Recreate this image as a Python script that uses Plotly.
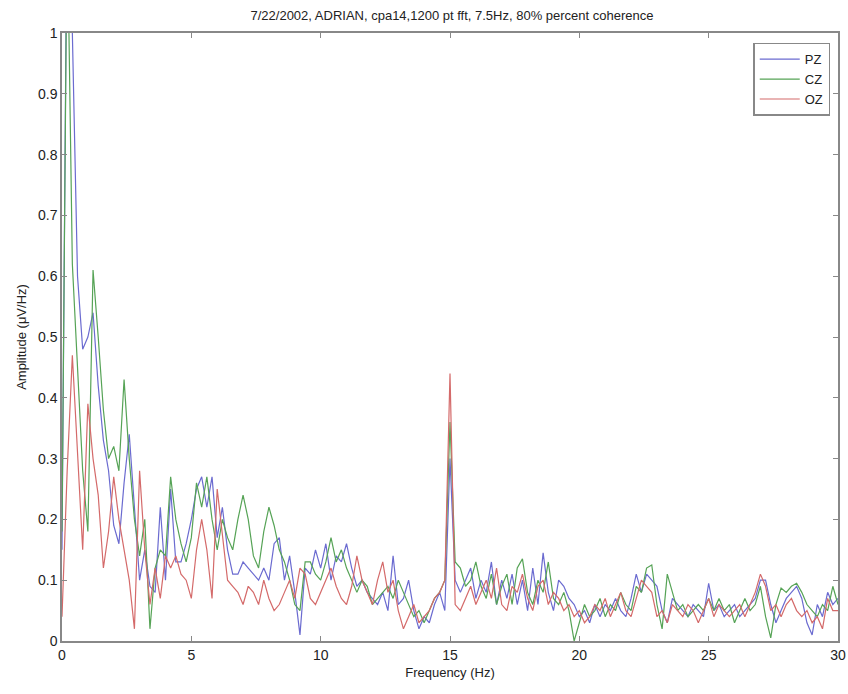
import numpy as np
import plotly.graph_objects as go

step = 0.2
freq = [round(i * step, 1) for i in range(151)]

pz = [
    0.15, 1.25, 1.00, 0.60, 0.48, 0.50, 0.54, 0.42, 0.33, 0.28,
    0.19, 0.16, 0.26, 0.34, 0.22, 0.10, 0.15, 0.09, 0.08, 0.22,
    0.10, 0.25, 0.13, 0.13, 0.16, 0.20, 0.25, 0.27, 0.22, 0.27,
    0.17, 0.22, 0.15, 0.11, 0.11, 0.13, 0.12, 0.11, 0.10, 0.12,
    0.10, 0.16, 0.17, 0.10, 0.14, 0.08, 0.01, 0.12, 0.11, 0.15,
    0.12, 0.16, 0.10, 0.14, 0.13, 0.16, 0.12, 0.09, 0.10, 0.08,
    0.07, 0.06, 0.08, 0.05, 0.14, 0.06, 0.07, 0.10, 0.05, 0.02,
    0.04, 0.03, 0.06, 0.08, 0.05, 0.30, 0.10, 0.08, 0.10, 0.12,
    0.07, 0.10, 0.08, 0.13, 0.06, 0.10, 0.07, 0.11, 0.06, 0.10,
    0.05, 0.12, 0.06, 0.145, 0.08, 0.05, 0.10, 0.09, 0.07, 0.06,
    0.04, 0.05, 0.03, 0.06, 0.04, 0.06, 0.05, 0.07, 0.05, 0.04,
    0.07, 0.11, 0.08, 0.11, 0.10, 0.09, 0.05, 0.03, 0.07, 0.06,
    0.05, 0.04, 0.06, 0.05, 0.04, 0.095, 0.05, 0.06, 0.04, 0.05,
    0.06, 0.04, 0.05, 0.06, 0.07, 0.10, 0.10, 0.06, 0.03, 0.05,
    0.07, 0.08, 0.09, 0.07, 0.03, 0.01, 0.06, 0.04, 0.08, 0.06,
    0.07,
]

cz = [
    0.18, 1.20, 0.62, 0.45, 0.28, 0.18, 0.61, 0.50, 0.38, 0.30,
    0.32, 0.28, 0.43, 0.30, 0.20, 0.14, 0.20, 0.02, 0.12, 0.15,
    0.14, 0.27, 0.20, 0.16, 0.13, 0.17, 0.26, 0.22, 0.27, 0.20,
    0.15, 0.20, 0.17, 0.15, 0.20, 0.24, 0.20, 0.14, 0.12, 0.18,
    0.22, 0.19, 0.15, 0.13, 0.10, 0.06, 0.05, 0.13, 0.13, 0.11,
    0.10, 0.13, 0.17, 0.13, 0.15, 0.12, 0.10, 0.08, 0.10, 0.09,
    0.06, 0.07, 0.08, 0.09, 0.07, 0.10, 0.08, 0.06, 0.04, 0.05,
    0.03, 0.05, 0.07, 0.08, 0.10, 0.36, 0.13, 0.12, 0.09, 0.10,
    0.13, 0.09, 0.07, 0.11, 0.06, 0.09, 0.11, 0.06, 0.12, 0.135,
    0.08, 0.06, 0.10, 0.08, 0.13, 0.07, 0.06, 0.08, 0.05, 0.00,
    0.03, 0.06, 0.04, 0.05, 0.07, 0.04, 0.06, 0.05, 0.08, 0.06,
    0.05, 0.09, 0.08, 0.12, 0.125, 0.06, 0.02, 0.11, 0.08, 0.05,
    0.06, 0.04, 0.05, 0.06, 0.05, 0.07, 0.05, 0.07, 0.05, 0.06,
    0.03, 0.05, 0.07, 0.05, 0.06, 0.09, 0.04, 0.005, 0.06, 0.087,
    0.08, 0.09, 0.095, 0.08, 0.06, 0.05, 0.04, 0.06, 0.05, 0.09,
    0.06,
]

oz = [
    0.04, 0.28, 0.47, 0.30, 0.15, 0.39, 0.30, 0.24, 0.12, 0.18,
    0.27, 0.20, 0.15, 0.10, 0.02, 0.28, 0.15, 0.06, 0.12, 0.07,
    0.14, 0.12, 0.14, 0.11, 0.10, 0.07, 0.15, 0.20, 0.15, 0.07,
    0.25, 0.18, 0.10, 0.09, 0.08, 0.06, 0.09, 0.08, 0.06, 0.10,
    0.07, 0.05, 0.06, 0.08, 0.10, 0.07, 0.12, 0.11, 0.07, 0.06,
    0.08, 0.10, 0.12, 0.09, 0.07, 0.06, 0.09, 0.14, 0.10, 0.08,
    0.06, 0.10, 0.13, 0.08, 0.10, 0.05, 0.02, 0.04, 0.06, 0.03,
    0.04, 0.05, 0.07, 0.08, 0.10, 0.44, 0.06, 0.05, 0.07, 0.09,
    0.06, 0.08, 0.10, 0.07, 0.12, 0.06, 0.05, 0.09, 0.08, 0.11,
    0.07, 0.05, 0.09, 0.10, 0.06, 0.08, 0.07, 0.05, 0.06, 0.04,
    0.05, 0.03, 0.04, 0.06, 0.05, 0.07, 0.04, 0.06, 0.08, 0.05,
    0.04, 0.07, 0.10, 0.09, 0.08, 0.04, 0.05, 0.03, 0.06, 0.05,
    0.04, 0.06, 0.05, 0.03, 0.05, 0.07, 0.04, 0.06, 0.05, 0.04,
    0.05, 0.06, 0.04, 0.06, 0.08, 0.11, 0.09, 0.05, 0.06, 0.04,
    0.06, 0.07, 0.05, 0.04, 0.05, 0.03, 0.04, 0.02, 0.07, 0.05,
    0.05,
]

series_names = ["PZ", "CZ", "OZ"]
series_values = [pz, cz, oz]
colors = ["#6b6bd0", "#56a356", "#d46a6a"]

x_ticks = [0, 5, 10, 15, 20, 25, 30]
y_ticks = [round(v * 0.1, 1) for v in range(11)]
y_ticktext = ["0", "0.1", "0.2", "0.3", "0.4", "0.5", "0.6", "0.7", "0.8", "0.9", "1"]

fig = go.Figure()
for name, vals, col in zip(series_names, series_values, colors):
    fig.add_trace(go.Scatter(x=freq, y=vals, mode="lines", name=name,
                             line=dict(color=col, width=1.2)))

font_family = "Liberation Sans, Arial, sans-serif"
axis_common = dict(showgrid=False, zeroline=False, showline=True, mirror="ticks",
                   linecolor="#888888", linewidth=1.5, ticks="inside", ticklen=5,
                   tickcolor="#888888", automargin=False,
                   tickfont=dict(family=font_family, size=14, color="#222"))

fig.update_layout(
    width=848, height=694,
    margin=dict(l=62, r=10, t=33, b=53),
    paper_bgcolor="white", plot_bgcolor="white",
    title=dict(text="7/22/2002, ADRIAN, cpa14,1200 pt fft, 7.5Hz, 80% percent coherence",
               x=452 / 848, xref="container", y=1 - 15 / 694, yref="container",
               xanchor="center", yanchor="middle", automargin=False,
               font=dict(family=font_family, size=13, color="#222")),
    xaxis=dict(range=[0, 30], tickvals=x_ticks, title=dict(text="Frequency (Hz)", standoff=6,
               font=dict(family=font_family, size=13, color="#222")), **axis_common),
    yaxis=dict(range=[0, 1], tickvals=y_ticks, ticktext=y_ticktext,
               title=dict(text="Amplitude (μV/Hz)", standoff=8,
               font=dict(family=font_family, size=13, color="#222")), **axis_common),
    legend=dict(x=0.99, y=0.984, xanchor="right", yanchor="top", bgcolor="white",
                bordercolor="#888888", borderwidth=1.5, tracegroupgap=0, itemwidth=40,
                font=dict(family=font_family, size=13, color="#222")),
    showlegend=True,
)

# remove the default page margin so the figure fills the window exactly
fig.write_html("out.html", config={"displayModeBar": False},
               post_script="document.body.style.margin='0';document.body.style.overflow='hidden';")
